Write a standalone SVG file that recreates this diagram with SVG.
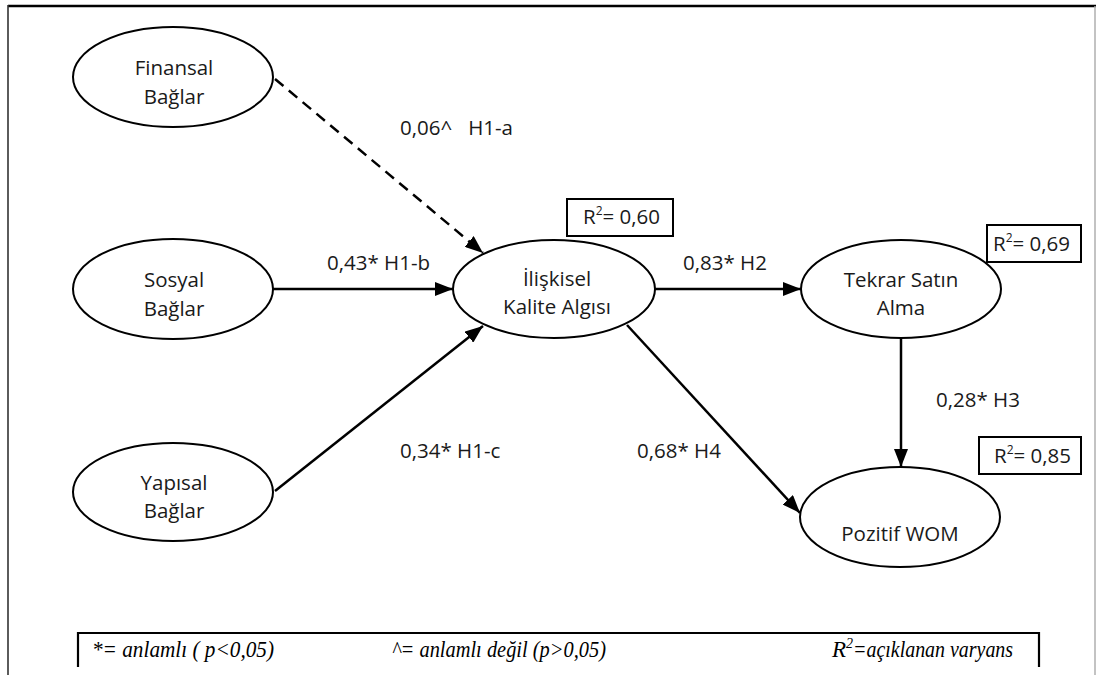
<svg xmlns="http://www.w3.org/2000/svg" width="1096" height="675" viewBox="0 0 1096 675">
  <defs>
    <marker id="arrow" viewBox="0 0 18 14" refX="18" refY="7" markerWidth="18" markerHeight="14" markerUnits="userSpaceOnUse" orient="auto">
      <path d="M0,0 L18,7 L0,14 Z" fill="#000"/>
    </marker>
    <style>
      .node ellipse { fill: #fff; stroke: #000; stroke-width: 2; }
      .lbl { font-family: "Open Sans", "DejaVu Sans", sans-serif; font-size: 20.5px; fill: #1a1a1a; }
      .ctr { text-anchor: middle; }
      .edge { stroke: #000; stroke-width: 2.5; fill: none; marker-end: url(#arrow); }
      .dash { stroke-dasharray: 11 7; }
      .rbox { fill: #fff; stroke: #000; stroke-width: 2; }
      .sup { font-size: 12px; }
      .legend { font-family: "Liberation Serif", "Times New Roman", serif; font-style: italic; font-size: 23px; fill: #000; }
    </style>
  </defs>
  <rect width="1096" height="675" fill="#fff"/>

  <!-- outer frame -->
  <line x1="8" y1="6" x2="1096" y2="6" stroke="#000" stroke-width="2.5"/>
  <line x1="8" y1="5" x2="8" y2="675" stroke="#333" stroke-width="1.6"/>
  <line x1="1095" y1="6" x2="1095" y2="675" stroke="#aaa" stroke-width="1.4"/>

  <!-- connectors -->
  <g id="connectors">
    <line class="edge dash" x1="275" y1="79" x2="483" y2="253"/>
    <line class="edge" x1="273" y1="289" x2="453" y2="289"/>
    <line class="edge" x1="275" y1="491" x2="483" y2="326"/>
    <line class="edge" x1="655" y1="289" x2="801" y2="289"/>
    <line class="edge" x1="901" y1="338" x2="901" y2="467"/>
    <line class="edge" x1="627" y1="325" x2="800" y2="513"/>
  </g>

  <!-- path labels -->
  <g id="edge-labels" class="lbl">
    <text x="400" y="135" xml:space="preserve">0,06^   H1-a</text>
    <text x="327" y="270">0,43* H1-b</text>
    <text x="400" y="458">0,34* H1-c</text>
    <text x="683" y="270">0,83* H2</text>
    <text x="936" y="407">0,28* H3</text>
    <text x="637" y="458">0,68* H4</text>
  </g>

  <!-- constructs -->
  <g id="finansal" class="node">
    <ellipse cx="173" cy="77" rx="100" ry="50"/>
    <text class="lbl ctr" x="174" y="75">Finansal</text>
    <text class="lbl ctr" x="174" y="104">Bağlar</text>
  </g>
  <g id="sosyal" class="node">
    <ellipse cx="173" cy="289" rx="100" ry="50"/>
    <text class="lbl ctr" x="174" y="287">Sosyal</text>
    <text class="lbl ctr" x="174" y="316">Bağlar</text>
  </g>
  <g id="yapisal" class="node">
    <ellipse cx="173" cy="492" rx="100" ry="49"/>
    <text class="lbl ctr" x="174" y="490">Yapısal</text>
    <text class="lbl ctr" x="174" y="518">Bağlar</text>
  </g>
  <g id="iliskisel" class="node">
    <ellipse cx="554" cy="289" rx="101" ry="49"/>
    <text class="lbl ctr" x="557" y="286">İlişkisel</text>
    <text class="lbl ctr" x="557" y="314">Kalite Algısı</text>
  </g>
  <g id="tekrar" class="node">
    <ellipse cx="901" cy="289" rx="100" ry="49"/>
    <text class="lbl ctr" x="901" y="287">Tekrar Satın</text>
    <text class="lbl ctr" x="901" y="315">Alma</text>
  </g>
  <g id="pozitif" class="node">
    <ellipse cx="900" cy="517" rx="100" ry="50"/>
    <text class="lbl ctr" x="900" y="541">Pozitif WOM</text>
  </g>

  <!-- explained variance boxes -->
  <g id="r2-iliskisel">
    <rect class="rbox" x="567" y="199" width="106" height="37"/>
    <text class="lbl" x="583" y="224">R<tspan class="sup" dy="-9">2</tspan><tspan dy="9">= 0,60</tspan></text>
  </g>
  <g id="r2-tekrar">
    <rect class="rbox" x="987" y="225" width="94" height="37"/>
    <text class="lbl" x="993" y="251">R<tspan class="sup" dy="-9">2</tspan><tspan dy="9">= 0,69</tspan></text>
  </g>
  <g id="r2-pozitif">
    <rect class="rbox" x="979" y="437" width="102" height="37"/>
    <text class="lbl" x="994" y="463">R<tspan class="sup" dy="-9">2</tspan><tspan dy="9">= 0,85</tspan></text>
  </g>

  <!-- legend: narrow italic serif -->
  <g id="legend">
    <path d="M78,667 V633 H1039 V667" fill="none" stroke="#000" stroke-width="2.2"/>
    <text class="legend" x="92" y="657" textLength="182" lengthAdjust="spacingAndGlyphs">*= anlamlı ( p&lt;0,05)</text>
    <text class="legend" x="392" y="657" textLength="214" lengthAdjust="spacingAndGlyphs">^= anlamlı değil (p&gt;0,05)</text>
    <text class="legend" x="832" y="657">R<tspan font-size="14" dy="-9">2</tspan><tspan dy="9" textLength="160" lengthAdjust="spacingAndGlyphs">=açıklanan varyans</tspan></text>
  </g>
</svg>
